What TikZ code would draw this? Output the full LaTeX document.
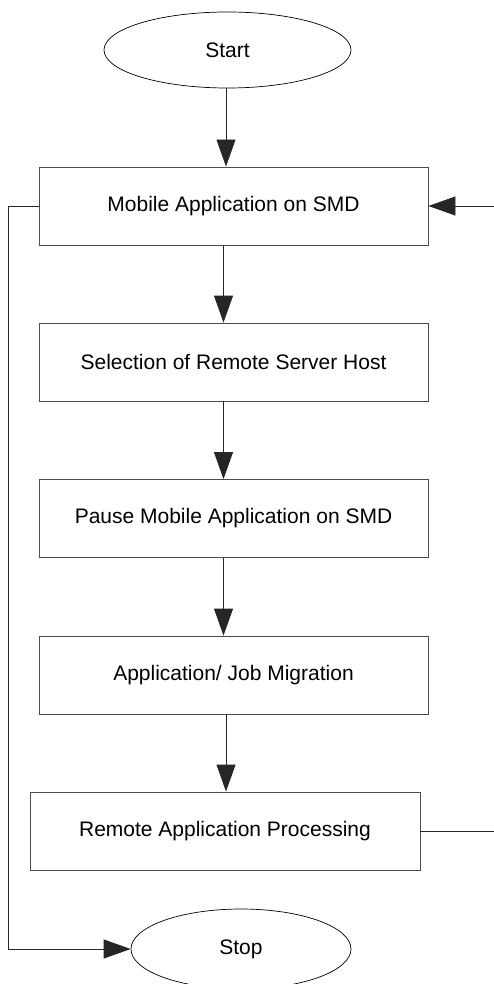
\documentclass[tikz,border=0pt]{standalone}
\usepackage{fontspec}
\setmainfont{Liberation Sans}
\usetikzlibrary{arrows.meta,shapes.geometric}
\begin{document}
\begin{tikzpicture}[x=1pt,y=-1pt,
  procbox/.style={draw=black!70,line width=0.9pt,rectangle,minimum width=389pt,minimum height=78pt,inner sep=0pt,font=\fontsize{21}{25}\selectfont},
  termin/.style={draw=black,line width=0.7pt,ellipse,inner sep=0pt,font=\fontsize{21}{25}\selectfont},
  conn/.style={draw=black!85,line width=0.9pt,-{Triangle[length=27pt,width=19pt]}},
  plain/.style={draw=black!70,line width=0.9pt}]
\useasboundingbox (0,0) rectangle (494,984);
\fill[white] (0,0) rectangle (494,984);
\node[termin,minimum width=247pt,minimum height=76pt] (start) at (227.5,50) {Start};
\node[procbox] (b1) at (233.5,206) {Mobile Application on SMD};
\node[procbox] (b2) at (233.5,362) {Selection of Remote Server Host};
\node[procbox] (b3) at (233.5,518.5) {Pause Mobile Application on SMD};
\node[procbox] (b4) at (233.5,675) {Application/ Job Migration};
\node[procbox,minimum width=390pt] (b5) at (225,831) {Remote Application Processing};
\node[termin,minimum width=220pt,minimum height=80pt] (stop) at (241,949) {Stop};
\coordinate (ax) at (223.5,0);
\coordinate (ay) at (226,0);
\coordinate (lx) at (8,0);
\coordinate (rx) at (497,0);
\draw[conn] (start.south -| ay) -- (b1.north -| ay);
\draw[conn] (b1.south -| ax) -- (b2.north -| ax);
\draw[conn] (b2.south -| ax) -- (b3.north -| ax);
\draw[conn] (b3.south -| ax) -- (b4.north -| ax);
\draw[conn] (b4.south -| ay) -- (b5.north -| ay);
\draw[conn] (b1.west) -- (b1.west -| lx) -- (stop.west -| lx) -- (stop.west);
\draw[conn] (b5.east) -- (b5.east -| rx) -- (b1.east -| rx) -- (b1.east);
\end{tikzpicture}
\end{document}
